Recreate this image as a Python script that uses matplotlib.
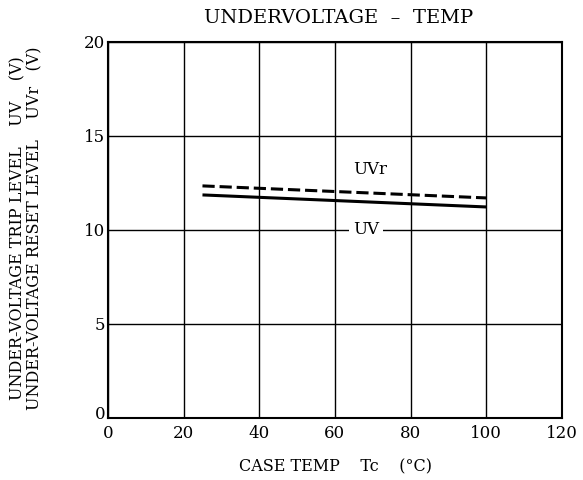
import matplotlib
matplotlib.use("Agg")
import matplotlib.pyplot as plt
import matplotlib.transforms as mtransforms

plt.rcParams['font.family'] = ['DejaVu Serif']

# data
temp = [25, 100]
uv_trip = [11.86, 11.22]
uv_reset = [12.34, 11.70]

x_ticks = [0, 20, 40, 60, 80, 100, 120]
y_ticks = [0, 5, 10, 15, 20]

fig = plt.figure(figsize=(5.83, 4.80), dpi=100)
ax = fig.add_axes([0.185, 0.129, 0.779, 0.784])

ax.plot(temp, uv_trip, color='black', lw=2.2, solid_capstyle='butt')
ax.plot(temp, uv_reset, color='black', lw=2.2, linestyle=(0, (4, 1.6)))

ax.set_xlim(0, 120)
ax.set_ylim(0, 20)
ax.set_xticks(x_ticks)
ax.set_yticks(y_ticks)
ax.grid(True, color='black', lw=1.0)
ax.set_axisbelow(True)
for s in ax.spines.values():
    s.set_linewidth(1.5)
ax.tick_params(length=0, labelsize=12)
ax.tick_params(axis='x', pad=5)
ax.tick_params(axis='y', pad=2)
zero_lbl = ax.get_yticklabels()[0]
zero_lbl.set_transform(zero_lbl.get_transform() +
                       mtransforms.ScaledTranslation(0, 4 / 72, fig.dpi_scale_trans))

ax.text(69.3, 13.2, 'UVr', fontsize=12, ha='center', va='center')
ax.text(68.2, 10.0, 'UV', fontsize=12, ha='center', va='center',
        bbox=dict(facecolor='white', edgecolor='none', pad=3))

fig.text(0.58, 0.962, 'UNDERVOLTAGE  \u2013  TEMP', fontsize=14, ha='center', va='center')
fig.text(0.575, 0.027, 'CASE TEMP    Tc    (\u00b0C)', fontsize=11.5, ha='center', va='center')
fig.text(0.045, 0.525, 'UNDER-VOLTAGE TRIP LEVEL    UV    (V)\nUNDER-VOLTAGE RESET LEVEL    UVr   (V)',
         fontsize=11.5, rotation=90, ha='center', va='center', linespacing=0.95)

fig.savefig('out.png', dpi=100)
